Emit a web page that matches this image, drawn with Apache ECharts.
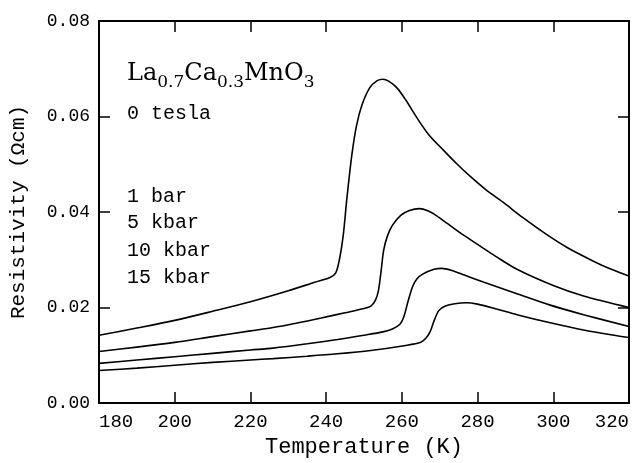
<!DOCTYPE html>
<html>
<head>
<meta charset="utf-8">
<script src="https://cdn.jsdelivr.net/npm/echarts@6/dist/echarts.min.js"></script>
<style>html,body{margin:0;padding:0;background:#fff}#c{width:636px;height:463px}</style>
</head>
<body>
<div id="c"></div>
<script>
// Temperature (K) and resistivity (Ohm cm)
const t1bar = [180,190,200,210,220,230,237,241,242.5,243.5,244.5,245.5,246.8,248,249.5,251.5,253.5,255,256.5,258.7,261,264,267,270.9,274.5,278,282,286.8,292,298.2,304,310.6,315,320];
const r1bar = [0.0142,0.0157,0.0173,0.0192,0.0212,0.0235,0.0253,0.0263,0.0272,0.0300,0.0350,0.0430,0.0520,0.0580,0.0625,0.0660,0.0675,0.0678,0.0674,0.0660,0.0635,0.0597,0.0563,0.0530,0.0501,0.0475,0.0448,0.0420,0.0388,0.0353,0.0324,0.0297,0.0281,0.0266];

const t5kbar = [180,190,200,210,220,226,232,238.7,245,250,251.8,253,253.8,254.5,255.2,256.2,257.5,259.7,262,264.6,267,269.2,272,276.2,280.8,285,290.4,300,308,320];
const r5kbar = [0.0108,0.0117,0.0127,0.0139,0.0151,0.0158,0.0167,0.0178,0.0189,0.0198,0.0203,0.0215,0.0235,0.0275,0.0320,0.0350,0.0372,0.0393,0.0403,0.0407,0.0402,0.0392,0.0376,0.0352,0.0328,0.0306,0.0280,0.0246,0.0224,0.0200];

const t10kbar = [180,190,200,210,220,226,235,243,250,255,257.5,259.5,260.5,261.5,262.8,264,265.5,268.5,270.5,273,276.5,281.7,290.4,299.2,308,320];
const r10kbar = [0.0083,0.0090,0.0097,0.0104,0.0111,0.0115,0.0124,0.0133,0.0142,0.0149,0.0155,0.0165,0.0180,0.0209,0.0243,0.0260,0.0270,0.0280,0.0282,0.0278,0.0268,0.0253,0.0229,0.0205,0.0185,0.0160];

const t15kbar = [180,190,200,210,220,226,235,243,251.8,260.6,265,266.5,267.5,268.5,269.8,271.5,274,277,280,285,290.4,299.2,308,320];
const r15kbar = [0.0068,0.0073,0.0079,0.0085,0.0090,0.0093,0.0098,0.0103,0.0110,0.0120,0.0127,0.0137,0.0150,0.0172,0.0194,0.0203,0.0208,0.0210,0.0207,0.0197,0.0185,0.0168,0.0153,0.0137];

const seriesNames = ['1 bar','5 kbar','10 kbar','15 kbar'];
const xTicks = [180,200,220,240,260,280,300,320];
const yTicks = ['0.00','0.02','0.04','0.06','0.08'];

const zip = (t, r) => t.map((v, i) => [v, r[i]]);
const dataSets = [zip(t1bar,r1bar), zip(t5kbar,r5kbar), zip(t10kbar,r10kbar), zip(t15kbar,r15kbar)];

const chart = echarts.init(document.getElementById('c'), null, {renderer:'canvas'});
const mono = 'Liberation Mono';
const axisCommon = {
  axisLine:{show:true, onZero:false, lineStyle:{color:'#000', width:2}},
  axisTick:{show:true, inside:true, length:11, lineStyle:{color:'#000', width:1.5}},
  splitLine:{show:false}
};
chart.setOption({
  animation:false,
  backgroundColor:'#fff',
  grid:{left:97, right:7, top:21, bottom:51},
  xAxis:[
    Object.assign({type:'value', min:180, max:320, interval:20, position:'bottom',
      name:'Temperature (K)', nameLocation:'middle', nameGap:33,
      nameTextStyle:{fontFamily:mono, fontSize:22, color:'#000'},
      axisLabel:{fontFamily:mono, fontSize:19, color:'#000', margin:9,
        alignMinLabel:'left', alignMaxLabel:'right',
        formatter:(v)=> String(xTicks[xTicks.indexOf(v)] ?? v)}}, axisCommon),
    Object.assign({type:'value', min:180, max:320, interval:20, position:'top',
      axisLabel:{show:false}}, axisCommon)
  ],
  yAxis:[
    Object.assign({type:'value', min:0, max:0.08, interval:0.02, position:'left',
      name:'Resistivity (\u03A9cm)', nameLocation:'middle', nameGap:70,
      nameTextStyle:{fontFamily:mono, fontSize:21, color:'#000'},
      axisLabel:{fontFamily:mono, fontSize:18, color:'#000', margin:9,
        formatter:(v)=> yTicks[Math.round(v/0.02)]}}, axisCommon),
    Object.assign({type:'value', min:0, max:0.08, interval:0.02, position:'right',
      axisLabel:{show:false}}, axisCommon)
  ],
  series: dataSets.map((d, i) => ({
    name: seriesNames[i], type:'line', data:d, xAxisIndex:0, yAxisIndex:0,
    showSymbol:false, smooth:0.3,
    lineStyle:{color:'#000', width:1.6}
  })),
  graphic:[
    {type:'text', left:127, top:62, style:{
      text:'{m|La}{s|0.7}{m|Ca}{s|0.3}{m|MnO}{s|3}',
      rich:{
        m:{fontFamily:'DejaVu Serif', fontSize:24, lineHeight:28, verticalAlign:'top', fill:'#000'},
        s:{fontFamily:'DejaVu Serif', fontSize:17, lineHeight:19, padding:[12,0,0,0], verticalAlign:'top', fill:'#000'}
      }}},
    {type:'text', left:127, top:104, style:{text:'0 tesla', font:'20px "Liberation Mono"', fill:'#000'}},
    {type:'text', left:127, top:187, style:{text:seriesNames[0], font:'20px "Liberation Mono"', fill:'#000'}},
    {type:'text', left:127, top:213, style:{text:seriesNames[1], font:'20px "Liberation Mono"', fill:'#000'}},
    {type:'text', left:127, top:241, style:{text:seriesNames[2], font:'20px "Liberation Mono"', fill:'#000'}},
    {type:'text', left:127, top:268, style:{text:seriesNames[3], font:'20px "Liberation Mono"', fill:'#000'}}
  ]
});
</script>
</body>
</html>
